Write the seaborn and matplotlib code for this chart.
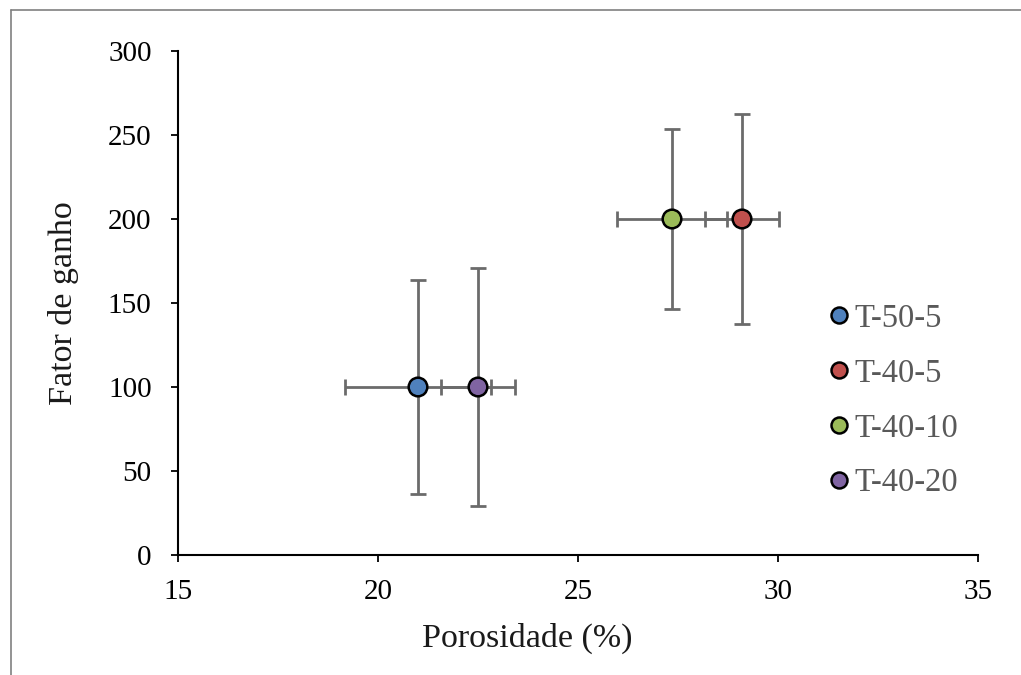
import matplotlib
matplotlib.use("Agg")
import matplotlib.pyplot as plt
import seaborn as sns
import pandas as pd
from matplotlib.lines import Line2D

# Data
samples = ["T-50-5", "T-40-5", "T-40-10", "T-40-20"]
porosity = [21.0, 29.1, 27.35, 22.5]
porosity_err = [1.83, 0.92, 1.37, 0.92]
gain = [100, 200, 200, 100]
gain_err = [63.5, 62.5, 53.5, 71.0]
colors = ["#4F81BD", "#C0504D", "#9BBB59", "#8064A2"]

df = pd.DataFrame({"Amostra": samples, "Porosidade": porosity, "Ganho": gain,
                   "xerr": porosity_err, "yerr": gain_err})

sns.set_theme(style="ticks")
plt.rcParams["font.family"] = ["Liberation Serif", "DejaVu Serif"]

fig = plt.figure(figsize=(10.21, 6.75), dpi=100)
ax = fig.add_axes([178/1021, 1-555/675, 800/1021, 504/675])

ax.errorbar(df["Porosidade"], df["Ganho"], xerr=df["xerr"], yerr=df["yerr"],
            fmt="none", ecolor="#6b6b6b", elinewidth=2, capsize=6, capthick=2, zorder=2)

sns.scatterplot(data=df, x="Porosidade", y="Ganho", hue="Amostra", hue_order=samples,
                palette=colors, s=180, edgecolor="black", linewidth=1.8, ax=ax,
                zorder=3, legend=False)

ax.set_xlim(15, 35)
ax.set_ylim(0, 300)
ax.set_xticks([15, 20, 25, 30, 35])
ax.set_yticks([0, 50, 100, 150, 200, 250, 300])
ax.tick_params(axis="both", labelsize=21, colors="black", length=5, width=1.3, direction="out")
ax.tick_params(axis="x", pad=12)
ax.tick_params(axis="y", pad=14)
for s in ["top", "right"]:
    ax.spines[s].set_visible(False)
for s in ["left", "bottom"]:
    ax.spines[s].set_color("black")
    ax.spines[s].set_linewidth(1.5)

ax.set_xlabel("Porosidade (%)", fontsize=24.5, color="#1a1a1a")
ax.xaxis.set_label_coords((527 - 178) / 800, -(623 - 555) / 504)
ax.set_ylabel("Fator de ganho", fontsize=24.5, color="#1a1a1a", labelpad=21)

handles = [Line2D([0], [0], marker="o", linestyle="none", markersize=11.5,
                  markerfacecolor=c, markeredgecolor="black", markeredgewidth=1.8)
           for c in colors]
leg = ax.legend(handles, samples, loc="center left", bbox_to_anchor=(0.796, 0.306),
                frameon=False, fontsize=23.5, handletextpad=0.12, labelspacing=0.75,
                handlelength=0.7, borderaxespad=0)
for t in leg.get_texts():
    t.set_color("#595959")

# Figure border (top and left)
fig.add_artist(Line2D([11/1021, 11/1021], [0, 1-10/675], transform=fig.transFigure,
                      color="#808080", linewidth=1.2))
fig.add_artist(Line2D([11/1021, 1], [1-10/675, 1-10/675], transform=fig.transFigure,
                      color="#808080", linewidth=1.2))

fig.savefig("out.png", dpi=100, facecolor="white")
